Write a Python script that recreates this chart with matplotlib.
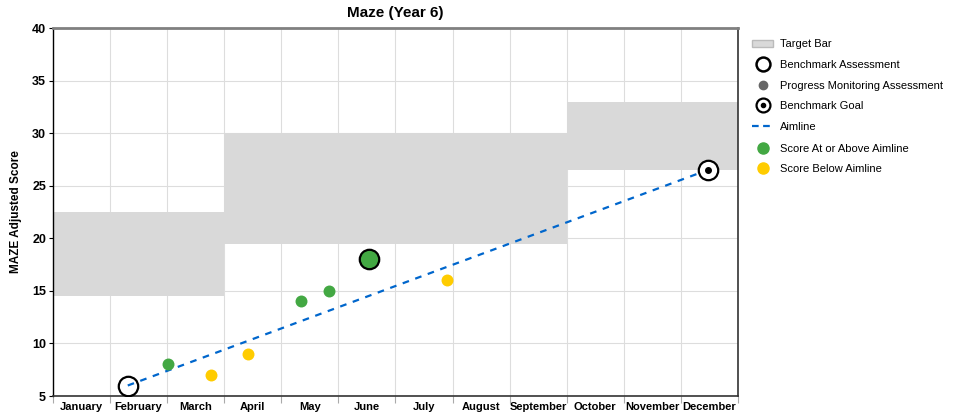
import matplotlib.pyplot as plt
from matplotlib.lines import Line2D
from matplotlib.patches import Patch

months = ["January", "February", "March", "April", "May", "June", "July",
          "August", "September", "October", "November", "December"]

# target bars: (start month index, end month index, low, high)
bar_start = [0, 3, 9]
bar_end = [3, 9, 12]
bar_low = [14.5, 19.5, 26.5]
bar_high = [22.5, 30, 33]

# positions in months from start of January
bench_x = [1.31]
bench_y = [6]
above_x = [2.01, 4.34, 4.83]
above_y = [8, 14, 15]
below_x = [2.77, 3.41, 6.90]
below_y = [7, 9, 16]
bench_above_x = [5.53]
bench_above_y = [18]
goal_x = [11.47]
goal_y = [26.5]

GREEN = "#43a843"
YELLOW = "#ffcc00"
BLUE = "#0066cc"
GRAY = "#d9d9d9"

plt.rcParams["font.family"] = ["Liberation Sans", "DejaVu Sans"]

fig = plt.figure(figsize=(9.56, 4.2), dpi=100)
ax = fig.add_axes([0.0554, 0.0571, 0.7166, 0.8762])

for s, e, lo, hi in zip(bar_start, bar_end, bar_low, bar_high):
    ax.fill_between([s, e], lo, hi, color=GRAY, lw=0, zorder=1)

ax.plot([bench_x[0], goal_x[0]], [bench_y[0], goal_y[0]], ls=(0, (3, 3)),
        color=BLUE, lw=1.6, zorder=3)

ax.plot(above_x, above_y, "o", ms=8.6, color=GREEN, mec="none", zorder=4)
ax.plot(below_x, below_y, "o", ms=8.6, color=YELLOW, mec="none", zorder=4)
ax.plot(bench_above_x, bench_above_y, "o", ms=14, mfc=GREEN, mec="black",
        mew=1.6, zorder=5)
ax.plot(bench_x, bench_y, "o", ms=14, mfc="none", mec="black", mew=1.6,
        zorder=5)
ax.plot(goal_x, goal_y, "o", ms=14, mfc="white", mec="black", mew=1.6,
        zorder=5)
ax.plot(goal_x, goal_y, "o", ms=4, color="black", zorder=6)

ax.set_xlim(0, 12)
ax.set_ylim(5, 40)
ax.set_xticks(range(13))
ax.set_xticklabels([])
ax.set_xticks([i + 0.5 for i in range(12)], minor=True)
ax.set_xticklabels(months, minor=True, fontsize=8, fontweight="bold")
ax.tick_params(axis="x", which="minor", length=0, pad=4)
ax.tick_params(axis="x", which="major", length=5, color="#aaaaaa")
ax.set_yticks(range(5, 41, 5))
ax.tick_params(axis="y", length=3, labelsize=9, pad=2)
for t in ax.get_yticklabels():
    t.set_fontweight("bold")
ax.grid(True, which="major", color="#dddddd", lw=0.8, zorder=0)
ax.set_axisbelow(True)

ax.spines["top"].set_color("#808080")
ax.spines["top"].set_linewidth(2)
ax.spines["left"].set_color("black")
ax.spines["left"].set_linewidth(1)
ax.spines["bottom"].set_color("#333333")
ax.spines["bottom"].set_linewidth(1.2)
ax.spines["right"].set_color("#333333")
ax.spines["right"].set_linewidth(1.2)

ax.set_title("Maze (Year 6)", fontsize=11, fontweight="bold", pad=8)
ax.set_ylabel("MAZE Adjusted Score", fontsize=8.5, fontweight="bold", labelpad=7)

goal_handle = (
    Line2D([], [], ls="none", marker="o", ms=10, mfc="white", mec="black", mew=1.6),
    Line2D([], [], ls="none", marker="o", ms=3, color="black"),
)
handles1 = [
    Patch(facecolor=GRAY, edgecolor="#bbbbbb", lw=1),
    Line2D([], [], ls="none", marker="o", ms=10, mfc="white", mec="black", mew=1.8),
    Line2D([], [], ls="none", marker="o", ms=6, color="#666666"),
    goal_handle,
    Line2D([], [], ls=(0, (3, 2)), color=BLUE, lw=1.6),
]
labels1 = ["Target Bar", "Benchmark Assessment", "Progress Monitoring Assessment",
           "Benchmark Goal", "Aimline"]
handles2 = [
    Line2D([], [], ls="none", marker="o", ms=8, color=GREEN),
    Line2D([], [], ls="none", marker="o", ms=8, color=YELLOW),
]
labels2 = ["Score At or Above Aimline", "Score Below Aimline"]

kw = dict(loc="upper left", frameon=False, fontsize=8, handlelength=1.9,
          handletextpad=0.6, labelspacing=0.95, borderaxespad=0, borderpad=0)
fig.legend(handles1, labels1, bbox_to_anchor=(0.787, 0.906), **kw)
fig.legend(handles2, labels2, bbox_to_anchor=(0.787, 0.658), **kw)

fig.savefig("out.png", dpi=100)
